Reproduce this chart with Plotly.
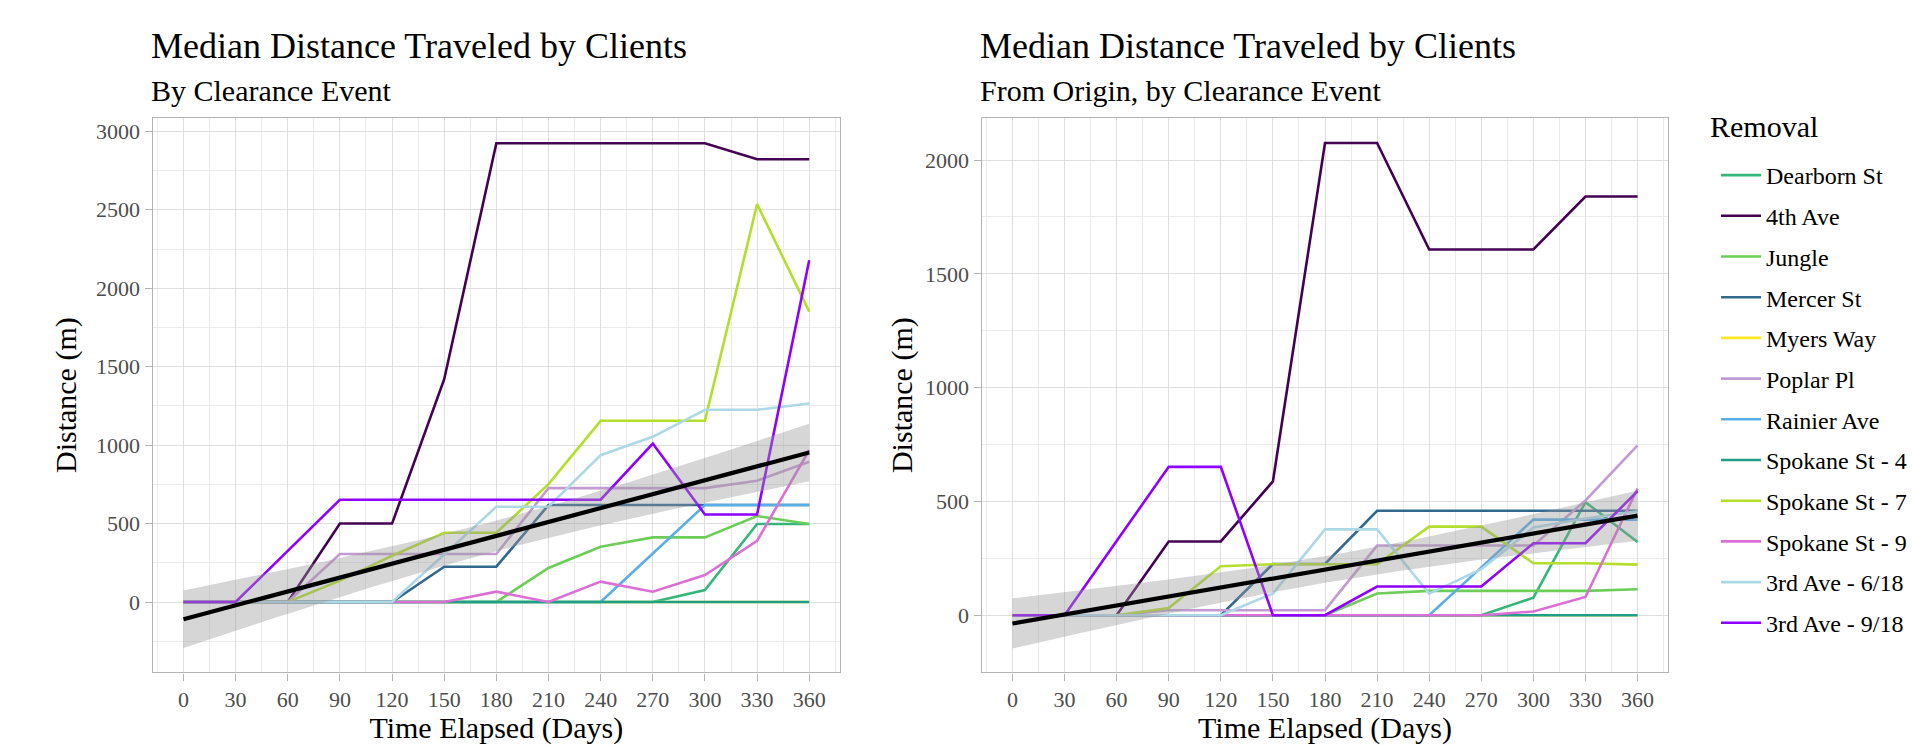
import numpy as np
import plotly.graph_objects as go

# ---------------- data ----------------
days = [0, 30, 60, 90, 120, 150, 180, 210, 240, 270, 300, 330, 360]

series_names = ["Dearborn St", "4th Ave", "Jungle", "Mercer St", "Myers Way", "Poplar Pl",
                "Rainier Ave", "Spokane St - 4", "Spokane St - 7", "Spokane St - 9",
                "3rd Ave - 6/18", "3rd Ave - 9/18"]
series_colors = ["#35B779", "#440154", "#6DCD59", "#31688E", "#FDE725", "#C39BD3",
                 "#5AAEE6", "#1F9E89", "#B4DE2C", "#DA70D6", "#ADD8E6", "#8F00FF"]

# Panel 1: distance by clearance event
left_dearborn = [0, 0, 0, 0, 0, 0, 0, 0, 0, 0, 76, 497, 497]
left_4th_ave = [0, 0, 0, 500, 500, 1420, 2924, 2924, 2924, 2924, 2924, 2822, 2822]
left_jungle = [0, 0, 0, 0, 0, 0, 0, 217, 352, 412, 412, 548, 497]
left_mercer = [0, 0, 0, 0, 0, 225, 225, 618, 618, 618, 618, 618, 618]
left_myers = [0, 0, 0, 0, 0, 0, 0, 0, 0, 0, 0, 0, 0]
left_poplar = [0, 0, 0, 306, 306, 306, 306, 726, 726, 726, 726, 773, 894]
left_rainier = [0, 0, 0, 0, 0, 0, 0, 0, 0, 309, 618, 618, 618]
left_spokane4 = [0, 0, 0, 0, 0, 0, 0, 0, 0, 0, 0, 0, 0]
left_spokane7 = [0, 0, 0, 136, 295, 441, 441, 751, 1155, 1155, 1155, 2536, 1851]
left_spokane9 = [0, 0, 0, 0, 0, 0, 66, 0, 130, 66, 172, 390, 968]
left_3rd_618 = [0, 0, 0, 0, 0, 303, 607, 607, 936, 1053, 1225, 1225, 1265]
left_3rd_918 = [0, 0, 326, 652, 652, 652, 652, 652, 652, 1010, 558, 558, 2178]

# Panel 2: distance from origin by clearance event
right_dearborn = [0, 0, 0, 0, 0, 0, 0, 0, 0, 0, 77, 497, 322]
right_4th_ave = [0, 0, 0, 324, 324, 588, 2075, 2075, 1607, 1607, 1607, 1840, 1840]
right_jungle = [0, 0, 0, 0, 0, 0, 0, 95, 107, 107, 107, 107, 114]
right_mercer = [0, 0, 0, 0, 0, 225, 225, 459, 459, 459, 459, 459, 459]
right_myers = [0, 0, 0, 0, 0, 0, 0, 0, 0, 0, 0, 0, 0]
right_poplar = [0, 0, 0, 22, 22, 22, 22, 306, 306, 306, 306, 504, 746]
right_rainier = [0, 0, 0, 0, 0, 0, 0, 0, 0, 210, 420, 420, 420]
right_spokane4 = [0, 0, 0, 0, 0, 0, 0, 0, 0, 0, 0, 0, 0]
right_spokane7 = [0, 0, 0, 31, 215, 224, 224, 224, 389, 389, 228, 228, 222]
right_spokane9 = [0, 0, 0, 0, 0, 0, 0, 0, 0, 0, 16, 80, 557]
right_3rd_618 = [0, 0, 0, 0, 0, 95, 377, 377, 95, 202, 385, 425, 457]
right_3rd_918 = [0, 0, 326, 652, 652, 0, 0, 126, 126, 126, 316, 316, 545]

left_series = [left_dearborn, left_4th_ave, left_jungle, left_mercer, left_myers, left_poplar,
               left_rainier, left_spokane4, left_spokane7, left_spokane9, left_3rd_618, left_3rd_918]
right_series = [right_dearborn, right_4th_ave, right_jungle, right_mercer, right_myers, right_poplar,
                right_rainier, right_spokane4, right_spokane7, right_spokane9, right_3rd_618, right_3rd_918]

x_ticks = [0, 30, 60, 90, 120, 150, 180, 210, 240, 270, 300, 330, 360]
left_y_ticks = [0, 500, 1000, 1500, 2000, 2500, 3000]
right_y_ticks = [0, 500, 1000, 1500, 2000]

titles = ["Median Distance Traveled by Clients", "Median Distance Traveled by Clients"]
subtitles = ["By Clearance Event", "From Origin, by Clearance Event"]
legend_title = "Removal"

# ---------------- layout constants ----------------
W, H = 1913, 745
FONT = "Liberation Serif"
panel_px = [(152.7, 840.0), (981.7, 1668.3)]
panel_top, panel_bot = 118.0, 672.3


def lm_fit(series_list):
    X = np.tile(np.array(days, dtype=float), len(series_list))
    Y = np.concatenate([np.array(s, dtype=float) for s in series_list])
    n = len(X)
    b1, b0 = np.polyfit(X, Y, 1)
    resid = Y - (b0 + b1 * X)
    s = np.sqrt(np.sum(resid ** 2) / (n - 2))
    xbar = X.mean()
    sxx = np.sum((X - xbar) ** 2)
    xg = np.linspace(min(days), max(days), 120)
    fit = b0 + b1 * xg
    t = 1.975
    se = s * np.sqrt(1.0 / n + (xg - xbar) ** 2 / sxx)
    return xg, fit, fit - t * se, fit + t * se


fig = go.Figure()

for p, (series_list, xa, ya) in enumerate([(left_series, "x", "y"), (right_series, "x2", "y2")]):
    for name, col, vals in zip(series_names, series_colors, series_list):
        fig.add_trace(go.Scatter(
            x=days, y=vals, mode="lines", name=name, legendgroup=name,
            showlegend=(p == 0), line=dict(color=col, width=2.6),
            xaxis=xa, yaxis=ya, hoverinfo="skip"))
    xg, fit, lo, hi = lm_fit(series_list)
    fig.add_trace(go.Scatter(
        x=np.concatenate([xg, xg[::-1]]), y=np.concatenate([hi, lo[::-1]]),
        fill="toself", fillcolor="rgba(153,153,153,0.4)", line=dict(width=0),
        mode="lines", showlegend=False, xaxis=xa, yaxis=ya, hoverinfo="skip"))
    fig.add_trace(go.Scatter(
        x=xg, y=fit, mode="lines", line=dict(color="black", width=4.2),
        showlegend=False, xaxis=xa, yaxis=ya, hoverinfo="skip"))

axis_common = dict(
    ticks="outside", ticklen=7, tickwidth=1.4, tickcolor="#B3B3B3",
    showgrid=True, gridcolor="#DEDEDE", gridwidth=1.4,
    showline=True, mirror=True, linecolor="#B3B3B3", linewidth=1.4,
    zeroline=False, tickfont=dict(family=FONT, size=22, color="#4D4D4D"),
)

y_dom = [1 - panel_bot / H, 1 - panel_top / H]
y_standoff = [10, 3]
for p, (yticks, yrange) in enumerate([(left_y_ticks, [-448, 3085]), (right_y_ticks, [-251, 2185])]):
    sfx = "" if p == 0 else "2"
    x0, x1 = panel_px[p]
    fig.layout["xaxis" + sfx] = dict(
        axis_common, domain=[x0 / W, x1 / W], range=[-17.7, 377.7], anchor="y" + sfx,
        tickmode="array", tickvals=x_ticks, ticktext=[str(v) for v in x_ticks],
        minor=dict(dtick=15, tick0=0, showgrid=True, gridcolor="#EBEBEB", gridwidth=0.9, ticks=""),
        title=dict(text="Time Elapsed (Days)", font=dict(family=FONT, size=30, color="black"), standoff=2),
    )
    fig.layout["yaxis" + sfx] = dict(
        axis_common, domain=y_dom, range=yrange, anchor="x" + sfx,
        tickmode="array", tickvals=yticks, ticktext=[str(v) for v in yticks],
        minor=dict(dtick=250, tick0=0, showgrid=True, gridcolor="#EBEBEB", gridwidth=0.9, ticks=""),
        title=dict(text="Distance (m)", font=dict(family=FONT, size=30, color="black"),
                   standoff=y_standoff[p]),
    )

annotations = []
for p in range(2):
    x0 = panel_px[p][0] - 3.5
    annotations.append(dict(
        text=titles[p], x=x0 / W, y=1 - 46 / H, xref="paper", yref="paper",
        xanchor="left", yanchor="middle", showarrow=False,
        font=dict(family=FONT, size=36, color="black")))
    annotations.append(dict(
        text=subtitles[p], x=x0 / W, y=1 - 90 / H, xref="paper", yref="paper",
        xanchor="left", yanchor="middle", showarrow=False,
        font=dict(family=FONT, size=30, color="black")))
# legend heading
annotations.append(dict(
    text=legend_title, x=1708 / W, y=1 - 126 / H, xref="paper", yref="paper",
    xanchor="left", yanchor="middle", showarrow=False,
    font=dict(family=FONT, size=30, color="black")))

fig.update_layout(
    width=W, height=H, margin=dict(l=0, r=0, t=0, b=0),
    paper_bgcolor="white", plot_bgcolor="white",
    font=dict(family=FONT, color="black"),
    annotations=annotations,
    legend=dict(
        font=dict(family=FONT, size=24, color="black"),
        x=1716 / W, y=1 - 153 / H, xanchor="left", yanchor="top",
        traceorder="grouped", tracegroupgap=6.5, itemwidth=40,
        bgcolor="rgba(0,0,0,0)", borderwidth=0),
)

fig.write_html("out.html")
